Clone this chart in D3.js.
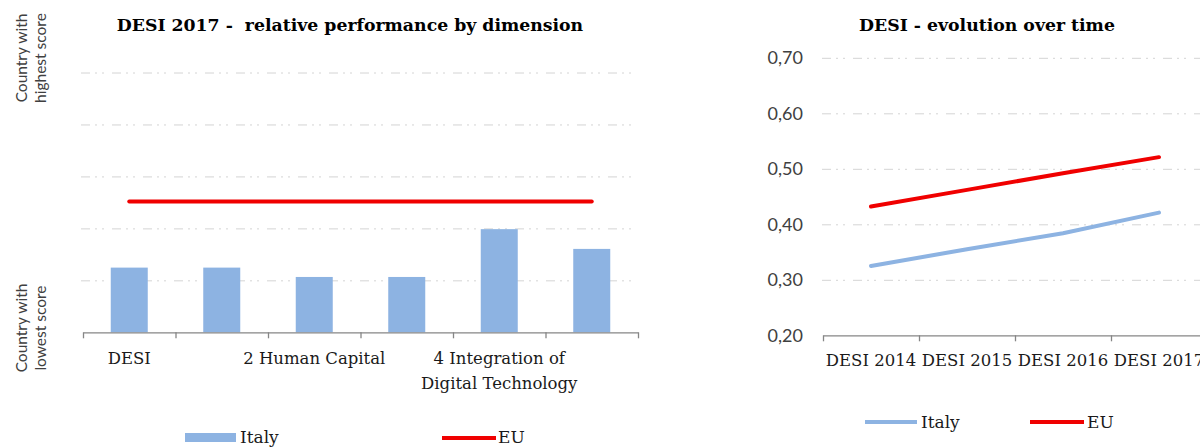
<!DOCTYPE html>
<html>
<head>
<meta charset="utf-8">
<script src="https://cdn.jsdelivr.net/npm/d3@7"></script>
<style>
  body { margin: 0; background: #fff; }
  .chart-title { font-family: "DejaVu Serif", serif; font-weight: bold; font-size: 17.3px; fill: #000; white-space: pre; }
  .cat-label { font-family: "DejaVu Serif", serif; font-size: 16.5px; fill: #1a1a1a; }
  .legend { font-family: "DejaVu Serif", serif; font-size: 17px; fill: #1a1a1a; }
  .side-label { font-family: Lato, sans-serif; font-size: 15.5px; fill: #404040; }
  .y-label { font-family: Lato, sans-serif; font-size: 18px; fill: #404040; }
  .grid line { stroke: #d4d4d4; stroke-width: 1; stroke-dasharray: 9,5,2,5,2,8; }
  .axis path, .axis line { stroke: #868686; stroke-width: 1.3; }
</style>
</head>
<body>
<div id="viz_container"></div>
<script>
// left chart: DESI 2017 by dimension (0 = lowest country, 1 = highest country)
const dimensions = ["DESI", "1 Connectivity", "2 Human Capital", "3 Use of Internet",
                    "4 Integration of Digital Technology", "5 Digital Public Services"];
const italyDim = [0.249, 0.249, 0.213, 0.213, 0.397, 0.321];
const euDim = [0.503, 0.503, 0.503, 0.503, 0.503, 0.503];
const dimTicks = [0, 0.2, 0.4, 0.6, 0.8, 1];

// right chart: DESI evolution
const years = ["DESI 2014", "DESI 2015", "DESI 2016", "DESI 2017"];
const italyEvo = [0.325, 0.355, 0.384, 0.421];
const euEvo = [0.432, 0.462, 0.492, 0.521];
const evoTicks = [0.2, 0.3, 0.4, 0.5, 0.6, 0.7];

const seriesNames = ["Italy", "EU"];
const blue = "#8db3e2";
const red = "#f00000";

const svg = d3.select("#viz_container")
  .append("svg")
    .attr("width", 1200)
    .attr("height", 448);

// wrap long category names like excel does
function wrap(text, width) {
  text.each(function() {
    const t = d3.select(this);
    const words = t.text().split(/\s+/).reverse();
    const y = t.attr("y");
    const dy = parseFloat(t.attr("dy")) || 0;
    let line = [];
    let lineNumber = 0;
    let word;
    let tspan = t.text(null).append("tspan").attr("x", 0).attr("y", y).attr("dy", dy + "em");
    while (word = words.pop()) {
      line.push(word);
      tspan.text(line.join(" "));
      if (tspan.node().getComputedTextLength() > width && line.length > 1) {
        line.pop();
        tspan.text(line.join(" "));
        line = [word];
        tspan = t.append("tspan").attr("x", 0).attr("y", y)
          .attr("dy", ++lineNumber * 1.5 + dy + "em").text(word);
      }
    }
  });
}

// ---------- left chart ----------
const L = {left: 83, right: 638, top: 72.5, bottom: 332.3};

const xDim = d3.scaleBand()
  .domain(dimensions)
  .range([L.left, L.right]);

const xDimEdge = d3.scaleLinear()
  .domain([0, dimensions.length])
  .range([L.left, L.right]);

const yDim = d3.scaleLinear()
  .domain([0, 1])
  .range([L.bottom, L.top]);

svg.append("g")
    .attr("class", "grid")
    .attr("transform", `translate(${L.left - 2}, 0)`)
  .call(d3.axisLeft(yDim).tickValues(dimTicks.slice(1)).tickSize(-(L.right - L.left + 2)).tickFormat(""))
  .call(g => g.select(".domain").remove());

const barW = xDim.bandwidth() / 2.5;
svg.append("g")
  .selectAll("rect")
  .data(dimensions)
  .join("rect")
    .attr("x", d => xDim(d) + (xDim.bandwidth() - barW) / 2)
    .attr("y", (d, i) => yDim(italyDim[i]))
    .attr("width", barW)
    .attr("height", (d, i) => yDim(0) - yDim(italyDim[i]))
    .style("fill", blue);

svg.append("path")
  .datum(euDim)
    .attr("fill", "none")
    .attr("stroke", red)
    .attr("stroke-width", 4)
    .attr("stroke-linecap", "round")
    .attr("d", d3.line()
      .x((d, i) => xDim(dimensions[i]) + xDim.bandwidth() / 2)
      .y(d => yDim(d)));

// axis line with tick marks between categories
svg.append("g")
    .attr("class", "axis")
    .attr("transform", `translate(0, ${L.bottom})`)
  .call(d3.axisBottom(xDimEdge).tickValues(d3.range(dimensions.length + 1)).tickSize(6).tickSizeOuter(0).tickFormat(""));

// category labels, only every second one fits
svg.append("g")
  .selectAll("text")
  .data(dimensions.filter((d, i) => i % 2 === 0))
  .join("text")
    .attr("class", "cat-label")
    .attr("transform", d => `translate(${xDim(d) + xDim.bandwidth() / 2}, 0)`)
    .attr("y", 364)
    .attr("dy", 0)
    .attr("text-anchor", "middle")
    .text(d => d)
  .call(wrap, 2 * xDim.bandwidth());

svg.append("text")
    .attr("class", "chart-title")
    .attr("x", 350)
    .attr("y", 31)
    .attr("text-anchor", "middle")
  .text("DESI 2017 -  relative performance by dimension");

// side labels
const sideLabels = [["Country with", "highest score", 58], ["Country with", "lowest score", 328]];
sideLabels.forEach(s => {
  const t = svg.append("text")
      .attr("class", "side-label")
      .attr("transform", "rotate(-90)")
      .attr("text-anchor", "middle");
  t.append("tspan").attr("x", -s[2]).attr("y", 27).text(s[0]);
  t.append("tspan").attr("x", -s[2]).attr("y", 46).text(s[1]);
});

// legend
svg.append("rect")
    .attr("x", 185)
    .attr("y", 433)
    .attr("width", 51)
    .attr("height", 9)
    .style("fill", blue);
svg.append("text")
    .attr("class", "legend")
    .attr("x", 240)
    .attr("y", 443)
  .text(seriesNames[0]);
svg.append("line")
    .attr("x1", 442).attr("x2", 496)
    .attr("y1", 438).attr("y2", 438)
    .attr("stroke", red)
    .attr("stroke-width", 4);
svg.append("text")
    .attr("class", "legend")
    .attr("x", 498)
    .attr("y", 443)
  .text(seriesNames[1]);

// ---------- right chart ----------
const R = {left: 823, right: 1207, top: 57.8, bottom: 335.3};

const xEvo = d3.scaleBand()
  .domain(years)
  .range([R.left, R.right]);

const xEvoEdge = d3.scaleLinear()
  .domain([0, years.length])
  .range([R.left, R.right]);

const yEvo = d3.scaleLinear()
  .domain([0.2, 0.7])
  .range([R.bottom, R.top]);

svg.append("g")
    .attr("class", "grid")
    .attr("transform", `translate(${R.left - 1}, 0)`)
  .call(d3.axisLeft(yEvo).tickValues(evoTicks.slice(1)).tickSize(-(R.right - R.left)).tickFormat(""))
  .call(g => g.select(".domain").remove());

svg.append("g")
  .selectAll("text")
  .data(evoTicks)
  .join("text")
    .attr("class", "y-label")
    .attr("x", 803)
    .attr("y", d => yEvo(d))
    .attr("dy", "0.35em")
    .attr("text-anchor", "end")
    .text(d => d3.format(".2f")(d).replace(".", ","));

svg.append("g")
    .attr("class", "axis")
    .attr("transform", `translate(0, ${R.bottom})`)
  .call(d3.axisBottom(xEvoEdge).tickValues(d3.range(years.length + 1)).tickSize(6).tickSizeOuter(0).tickFormat(""));

svg.append("g")
  .selectAll("text")
  .data(years)
  .join("text")
    .attr("class", "cat-label")
    .attr("x", d => xEvo(d) + xEvo.bandwidth() / 2)
    .attr("y", 366)
    .attr("text-anchor", "middle")
    .text(d => d);

const evoLine = d3.line()
  .x((d, i) => xEvo(years[i]) + xEvo.bandwidth() / 2)
  .y(d => yEvo(d));

[[italyEvo, blue], [euEvo, red]].forEach(s => {
  svg.append("path")
    .datum(s[0])
      .attr("fill", "none")
      .attr("stroke", s[1])
      .attr("stroke-width", 4)
      .attr("stroke-linecap", "round")
      .attr("stroke-linejoin", "round")
      .attr("d", evoLine);
});

svg.append("text")
    .attr("class", "chart-title")
    .attr("x", 987)
    .attr("y", 31)
    .attr("text-anchor", "middle")
  .text("DESI - evolution over time");

// legend
svg.append("line")
    .attr("x1", 865).attr("x2", 917)
    .attr("y1", 422).attr("y2", 422)
    .attr("stroke", blue)
    .attr("stroke-width", 4);
svg.append("text")
    .attr("class", "legend")
    .attr("x", 921)
    .attr("y", 428)
  .text(seriesNames[0]);
svg.append("line")
    .attr("x1", 1030).attr("x2", 1084)
    .attr("y1", 422).attr("y2", 422)
    .attr("stroke", red)
    .attr("stroke-width", 4);
svg.append("text")
    .attr("class", "legend")
    .attr("x", 1087)
    .attr("y", 428)
  .text(seriesNames[1]);
</script>
</body>
</html>
